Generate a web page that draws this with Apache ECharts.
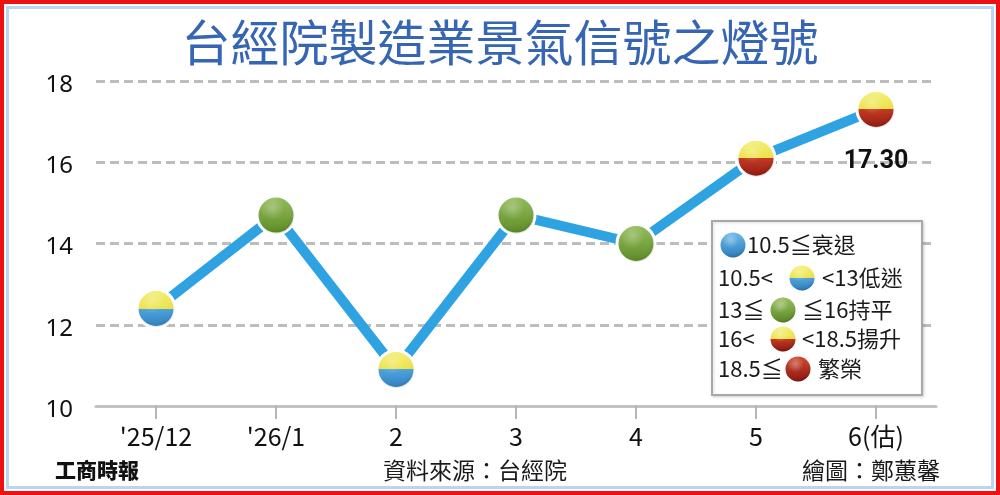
<!DOCTYPE html>
<html>
<head>
<meta charset="utf-8">
<script src="https://cdn.jsdelivr.net/npm/echarts@6/dist/echarts.min.js"></script>
<style>
html,body{margin:0;padding:0;background:#fff;}
#c{width:1000px;height:495px;}
</style>
</head>
<body>
<div id="c"></div>
<script>
// ---- data ----
const categories = ["'25/12", "'26/1", "2", "3", "4", "5", "6(估)"];
const values = [12.4, 14.7, 10.9, 14.7, 14.0, 16.1, 17.3];
const lastLabel = "17.30";
const yMin = 10, yMax = 18, yStep = 2;
const titleText = "台經院製造業景氣信號之燈號";
const sourceText = "資料來源：台經院";
const authorText = "繪圖：鄭蕙馨";
const brandText = "工商時報";
// legend rows: [left text, lamp type, right text]
const legendRows = [
  ["", "blue", "10.5≦衰退"],
  ["10.5<", "yb", "<13低迷"],
  ["13≦", "green", "≦16持平"],
  ["16<", "yr", "<18.5揚升"],
  ["18.5≦", "red", "繁榮"]
];

const LG = echarts.graphic.LinearGradient;
const RG = echarts.graphic.RadialGradient;
const C = {yellow:'#ece34a', yellowTop:'#f5ef7a', blueDark:'#2c7fc0', greenDark:'#5a8a22', redDark:'#8e1510'};
function lampFill(type){
  switch(type){
    case 'blue': return new LG(0,0,0,1,[{offset:0,color:'#6cb8e8'},{offset:1,color:C.blueDark}]);
    case 'yb': return new LG(0,0,0,1,[{offset:0,color:C.yellowTop},{offset:0.5,color:C.yellow},{offset:0.5,color:'#4ea3dc'},{offset:1,color:C.blueDark}]);
    case 'green': return new LG(0,0,0,1,[{offset:0,color:'#98c060'},{offset:1,color:C.greenDark}]);
    case 'yr': return new LG(0,0,0,1,[{offset:0,color:C.yellowTop},{offset:0.5,color:C.yellow},{offset:0.5,color:'#c23a22'},{offset:1,color:C.redDark}]);
    default: return new LG(0,0,0,1,[{offset:0,color:'#d04a30'},{offset:1,color:C.redDark}]);
  }
}
function lampType(v){
  if (v <= 10.5) return 'blue';
  if (v < 13) return 'yb';
  if (v <= 16) return 'green';
  if (v < 18.5) return 'yr';
  return 'red';
}
function gloss(){
  return new RG(0.4,0.3,0.75,[
    {offset:0,color:'rgba(255,255,255,0.35)'},
    {offset:0.45,color:'rgba(255,255,255,0)'},
    {offset:0.85,color:'rgba(0,0,0,0.05)'},
    {offset:1,color:'rgba(0,0,0,0.22)'}]);
}

const chart = echarts.init(document.getElementById('c'), null, {renderer:'canvas'});

const lineData = values.map((v,i)=>({
  value: v,
  itemStyle: {color: lampFill(lampType(v)), borderColor:'#fff', borderWidth:3},
  label: i === values.length-1 ? {show:true, position:'bottom', distance:19,
     formatter: lastLabel, fontSize:25, fontWeight:'bold', color:'#111',
     fontFamily:'Roboto, "Noto Sans", sans-serif'} : {show:false}
}));

// legend graphics
const lgX = 712, lgY = 221;
const rowY = [245, 278, 310, 339, 369];
const circleX = [733, 802, 783, 783, 798];
const rightX = [747, 822, 802, 802, 818];
const legendFont = '"Noto Sans CJK TC", "Noto Sans", sans-serif';
const legendEls = [{
  type:'rect', shape:{x:lgX, y:lgY, width:210, height:174},
  style:{fill:'#fff', stroke:'#a8a8a8', lineWidth:2, shadowBlur:3, shadowColor:'rgba(0,0,0,0.15)', shadowOffsetX:1, shadowOffsetY:1}, z:100
}];
legendRows.forEach((r,i)=>{
  if (r[0]) legendEls.push({type:'text', x:718, y:rowY[i], style:{text:r[0], font:'22px '+legendFont, fill:'#1a1a1a', textVerticalAlign:'middle', textAlign:'left'}, z:101});
  legendEls.push({type:'circle', shape:{cx:circleX[i], cy:rowY[i], r:12.5}, style:{fill:lampFill(r[1])}, z:101});
  legendEls.push({type:'circle', shape:{cx:circleX[i], cy:rowY[i], r:12.5}, style:{fill:gloss()}, z:102});
  legendEls.push({type:'text', x:rightX[i], y:rowY[i], style:{text:r[2], font:'22px '+legendFont, fill:'#1a1a1a', textVerticalAlign:'middle', textAlign:'left'}, z:101});
});

const option = {
  backgroundColor:'#fff',
  animation:false,
  grid:{left:96, right:64, top:81, bottom:89},
  xAxis:{
    type:'category', data:categories, boundaryGap:true,
    axisLine:{show:true, lineStyle:{color:'#c2c2c2', width:3}},
    axisTick:{show:true, alignWithLabel:true, length:13, lineStyle:{color:'#b5b5b5', width:2}},
    axisLabel:{margin:18, fontSize:25, color:'#111', fontFamily:'"Liberation Sans Narrow", "Noto Sans CJK TC", sans-serif'}
  },
  yAxis:{
    type:'value', min:yMin, max:yMax, interval:yStep,
    axisLine:{show:false}, axisTick:{show:false},
    splitLine:{show:true, lineStyle:{color:'#bdbdbd', width:3, type:[9,5]}},
    axisLabel:{margin:23, fontSize:24, color:'#111', fontFamily:'"Noto Sans", sans-serif', verticalAlign:'top', padding:[-8,0,0,0]}
  },
  series:[
    {
      type:'line', data:lineData, symbol:'circle', symbolSize:38,
      lineStyle:{color:'#2fa3e2', width:10}, z:3
    },
    {
      type:'scatter', data:values, symbol:'circle', symbolSize:37, silent:true,
      itemStyle:{color:gloss()}, z:4
    }
  ],
  graphic:[
    {type:'rect', shape:{x:2, y:2, width:996, height:491}, style:{fill:'none', stroke:'#ee1111', lineWidth:4}, z:200},
    {type:'rect', shape:{x:7.5, y:7.5, width:985, height:480}, style:{fill:'none', stroke:'#bcd5ee', lineWidth:3}, z:200},
    {type:'text', x:500, y:42, style:{text:titleText, font:'49px "Noto Sans CJK TC", sans-serif', fill:'#3565b3', textAlign:'center', textVerticalAlign:'middle', shadowBlur:2, shadowColor:'rgba(0,0,0,0.25)', shadowOffsetX:1, shadowOffsetY:1}, z:100},
    {type:'text', x:55, y:470, style:{text:brandText, font:'900 21px "Noto Sans CJK TC", serif', fill:'#111', textAlign:'left', textVerticalAlign:'middle'}, z:100},
    {type:'text', x:475, y:470, style:{text:sourceText, font:'23px "Noto Sans CJK TC", sans-serif', fill:'#1a1a1a', textAlign:'center', textVerticalAlign:'middle'}, z:100},
    {type:'text', x:940, y:470, style:{text:authorText, font:'23px "Noto Sans CJK TC", sans-serif', fill:'#1a1a1a', textAlign:'right', textVerticalAlign:'middle'}, z:100}
  ].concat(legendEls)
};
chart.setOption(option);
</script>
</body>
</html>
